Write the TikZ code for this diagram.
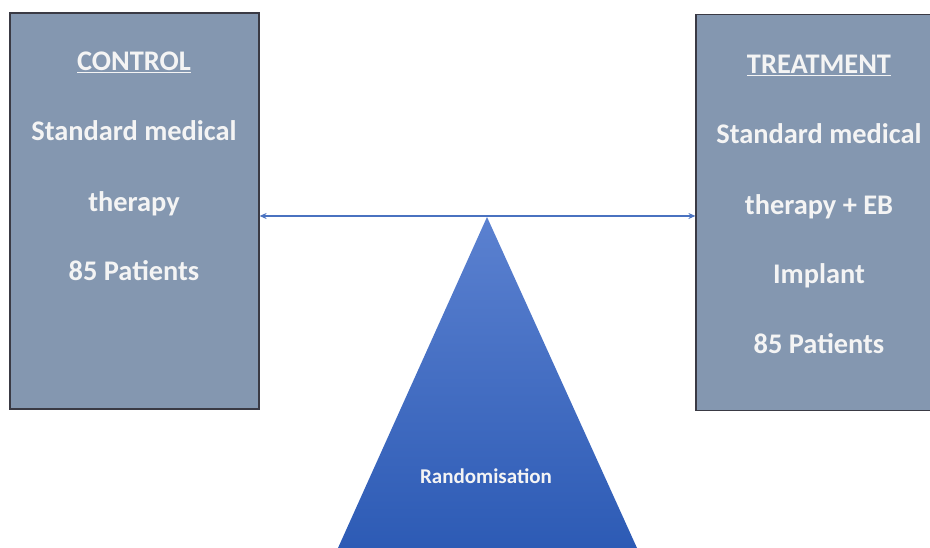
\documentclass[tikz,border=0pt]{standalone}
\usepackage{fontspec}
\setmainfont{Carlito}
\usetikzlibrary{arrows.meta}
\definecolor{boxfill}{HTML}{8497B0}
\definecolor{boxline}{HTML}{3A3A44}
\definecolor{arrowblue}{HTML}{4A72C0}
\definecolor{tritop}{HTML}{5B81D0}
\definecolor{tribot}{HTML}{2D5BB5}
\definecolor{txt}{HTML}{F4F4F4}
\tikzset{
  armbox/.style={draw=boxline, line width=1.2pt, fill=boxfill, minimum width=249pt, minimum height=396pt, inner sep=0pt},
  armtext/.style={text=txt, font=\bfseries\fontsize{28.4}{33}\selectfont, inner sep=0pt, anchor=base},
  randtext/.style={text=txt, font=\bfseries\fontsize{21}{25}\selectfont, inner sep=0pt, anchor=base},
  link/.style={draw=arrowblue, line width=1.1pt, {Stealth[length=7pt,width=6pt]}-{Stealth[length=7pt,width=6pt]}}
}
\begin{document}
\begin{tikzpicture}[x=1pt,y=1pt]
\useasboundingbox (0,0) rectangle (930,548);
\clip (0,0) rectangle (930,548);
% triangle
\shade[top color=tritop, bottom color=tribot] (487,331) -- (637,0) -- (338,0) -- cycle;
\coordinate (apex) at (487,332);
\node[randtext] (rand) at (486,64) {Randomisation};
% boxes
\node[armbox] (ctrl) at (134.5,337) {};
\node[armbox] (treat) at (820.5,335.5) {};
% control texts
\node[armtext] (c1) at (134,477) {\underline{CONTROL}};
\node[armtext] (c2) at (134,407) {Standard medical};
\node[armtext] (c3) at (134,336) {therapy};
\node[armtext] (c4) at (134,267) {85 Patients};
% treatment texts
\node[armtext] (t1) at (819,474) {\underline{TREATMENT}};
\node[armtext] (t2) at (819,404) {Standard medical};
\node[armtext] (t3) at (819,333) {therapy + EB};
\node[armtext] (t4) at (819,264) {Implant};
\node[armtext] (t5) at (819,194) {85 Patients};
% connector
\draw[link] (ctrl.east |- apex) -- (treat.west |- apex);
\end{tikzpicture}
\end{document}
